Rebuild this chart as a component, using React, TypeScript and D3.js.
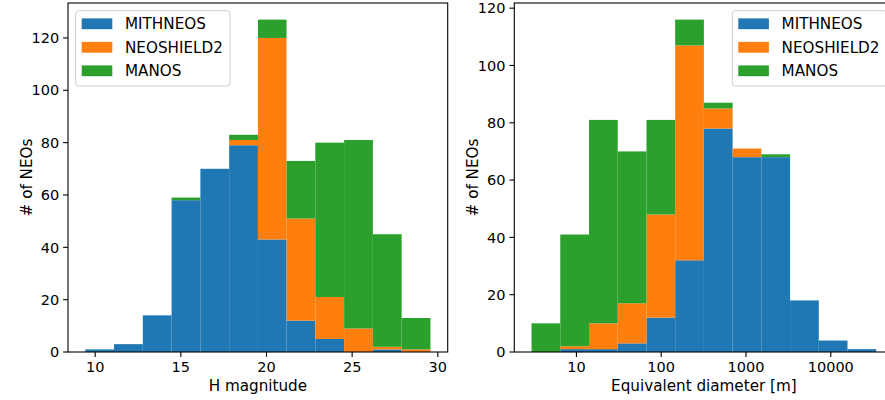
import React from "react";
import * as d3 from "d3";

const seriesNames = ["MITHNEOS", "NEOSHIELD2", "MANOS"];
const seriesColors = ["#1f77b4", "#ff7f0e", "#2ca02c"];

// H magnitude histogram bin edges and counts per series
const hEdges = [9.42, 11.1, 12.78, 14.46, 16.14, 17.82, 19.5, 21.17, 22.85, 24.53, 26.21, 27.89, 29.57];
const hMithneos = [1, 3, 14, 58, 70, 79, 43, 12, 5, 0, 1, 0];
const hNeoshield2 = [0, 0, 0, 0, 0, 2, 77, 39, 16, 9, 1, 1];
const hManos = [0, 0, 0, 1, 0, 2, 7, 22, 59, 72, 43, 12];

// Equivalent diameter histogram (log bins) edges in metres and counts
const dEdges = [2.955, 6.448, 14.07, 30.69, 66.97, 146.1, 318.8, 695.6, 1517, 3311, 7223, 15760, 34390];
const dMithneos = [0, 1, 1, 3, 12, 32, 78, 68, 68, 18, 4, 1];
const dNeoshield2 = [0, 1, 9, 14, 36, 75, 7, 3, 0, 0, 0, 0];
const dManos = [10, 39, 71, 53, 33, 9, 2, 0, 1, 0, 0, 0];

const hTicks = [10, 15, 20, 25, 30];
const dTicks = [10, 100, 1000, 10000];
const yTicksLeft = [0, 20, 40, 60, 80, 100, 120];
const yTicksRight = [0, 20, 40, 60, 80, 100, 120];

const FONT = "DejaVu Sans, sans-serif";

type PanelProps = {
  x0: number;
  x1: number;
  y0: number;
  y1: number;
  xScale: (v: number) => number;
  yMax: number;
  edges: number[];
  series: number[][];
  xTicks: number[];
  xTickFmt: (v: number) => string;
  yTicks: number[];
  xLabel: string;
  legendX: number;
  yLabelX: number;
};

function Panel(p: PanelProps) {
  const y = d3.scaleLinear().domain([0, p.yMax]).range([p.y1, p.y0]);
  const rects: React.ReactNode[] = [];
  const cum = new Array(p.edges.length - 1).fill(0);
  p.series.forEach((vals, si) => {
    vals.forEach((v, i) => {
      const bottom = cum[i];
      const top = bottom + v;
      cum[i] = top;
      if (v <= 0) return;
      const xa = p.xScale(p.edges[i]);
      const xb = p.xScale(p.edges[i + 1]);
      rects.push(
        <rect
          key={`${si}-${i}`}
          x={xa}
          y={y(top)}
          width={xb - xa}
          height={y(bottom) - y(top)}
          fill={seriesColors[si]}
        />
      );
    });
  });
  const tickLen = 4.9;
  const legendW = 154.3;
  const legendY = 10.7;
  return (
    <g>
      <defs>
        <clipPath id={`clip-${p.x0}`}>
          <rect x={p.x0} y={p.y0} width={p.x1 - p.x0} height={p.y1 - p.y0} />
        </clipPath>
      </defs>
      <g clipPath={`url(#clip-${p.x0})`}>{rects}</g>
      <rect x={p.x0} y={p.y0} width={p.x1 - p.x0} height={p.y1 - p.y0} fill="none" stroke="#000" strokeWidth={1.1} />
      {p.xTicks.map((t) => {
        const xx = p.xScale(t);
        return (
          <g key={`xt${t}`}>
            <line x1={xx} x2={xx} y1={p.y1} y2={p.y1 + tickLen} stroke="#000" strokeWidth={1.1} />
            <text x={xx} y={p.y1 + 19.7} textAnchor="middle" fontSize={14.5} fontFamily={FONT} fill="#000">
              {p.xTickFmt(t)}
            </text>
          </g>
        );
      })}
      {p.yTicks.map((t) => {
        const yy = y(t);
        return (
          <g key={`yt${t}`}>
            <line x1={p.x0 - tickLen} x2={p.x0} y1={yy} y2={yy} stroke="#000" strokeWidth={1.1} />
            <text x={p.x0 - 8.8} y={yy + 5.2} textAnchor="end" fontSize={14.5} fontFamily={FONT} fill="#000">
              {t}
            </text>
          </g>
        );
      })}
      <text x={(p.x0 + p.x1) / 2} y={391} textAnchor="middle" fontSize={15.2} fontFamily={FONT} fill="#000">
        {p.xLabel}
      </text>
      <text
        transform={`translate(${p.yLabelX},${(p.y0 + p.y1) / 2}) rotate(-90)`}
        textAnchor="middle"
        fontSize={15.2}
        fontFamily={FONT}
        fill="#000"
      >
        # of NEOs
      </text>
      <g>
        <rect
          x={p.legendX}
          y={legendY}
          width={legendW}
          height={75.3}
          rx={3}
          ry={3}
          fill="#fff"
          fillOpacity={0.8}
          stroke="#cccccc"
          strokeWidth={1}
        />
        {seriesNames.map((name, i) => {
          const cy = 23.8 + i * 23.5;
          return (
            <g key={name}>
              <rect x={p.legendX + 6} y={cy - 5.4} width={30.6} height={10.8} fill={seriesColors[i]} />
              <text x={p.legendX + 49.3} y={cy + 5.5} fontSize={15.2} fontFamily={FONT} fill="#000">
                {name}
              </text>
            </g>
          );
        })}
      </g>
    </g>
  );
}

export default function App() {
  const top = 3;
  const bottom = 352;
  const leftX0 = 68;
  const leftX1 = 447.7;
  const rightX0 = 514.3;
  const rightX1 = 893.5;

  const hLo = hEdges[0];
  const hHi = hEdges[hEdges.length - 1];
  const hPad = (hHi - hLo) * 0.05;
  const xH = d3.scaleLinear().domain([hLo - hPad, hHi + hPad]).range([leftX0, leftX1]);

  const lLo = Math.log10(dEdges[0]);
  const lHi = Math.log10(dEdges[dEdges.length - 1]);
  const lPad = (lHi - lLo) * 0.05;
  const xD = d3
    .scaleLog()
    .domain([Math.pow(10, lLo - lPad), Math.pow(10, lHi + lPad)])
    .range([rightX0, rightX1]);

  const totH = hEdges.slice(1).map((_, i) => hMithneos[i] + hNeoshield2[i] + hManos[i]);
  const totD = dEdges.slice(1).map((_, i) => dMithneos[i] + dNeoshield2[i] + dManos[i]);

  return (
    <svg width={885} height={400} style={{ position: "absolute", left: 0, top: 0, background: "#fff" }}>
      <rect x={0} y={0} width={885} height={400} fill="#fff" />
      <Panel
        x0={leftX0}
        x1={leftX1}
        y0={top}
        y1={bottom}
        xScale={xH}
        yMax={(d3.max(totH) as number) * 1.05}
        edges={hEdges}
        series={[hMithneos, hNeoshield2, hManos]}
        xTicks={hTicks}
        xTickFmt={(v) => String(v)}
        yTicks={yTicksLeft}
        xLabel="H magnitude"
        legendX={75.7}
        yLabelX={31.5}
      />
      <Panel
        x0={rightX0}
        x1={rightX1}
        y0={top}
        y1={bottom}
        xScale={xD}
        yMax={(d3.max(totD) as number) * 1.05}
        edges={dEdges}
        series={[dMithneos, dNeoshield2, dManos]}
        xTicks={dTicks}
        xTickFmt={(v) => String(v)}
        yTicks={yTicksRight}
        xLabel="Equivalent diameter [m]"
        legendX={732.3}
        yLabelX={478.3}
      />
    </svg>
  );
}
